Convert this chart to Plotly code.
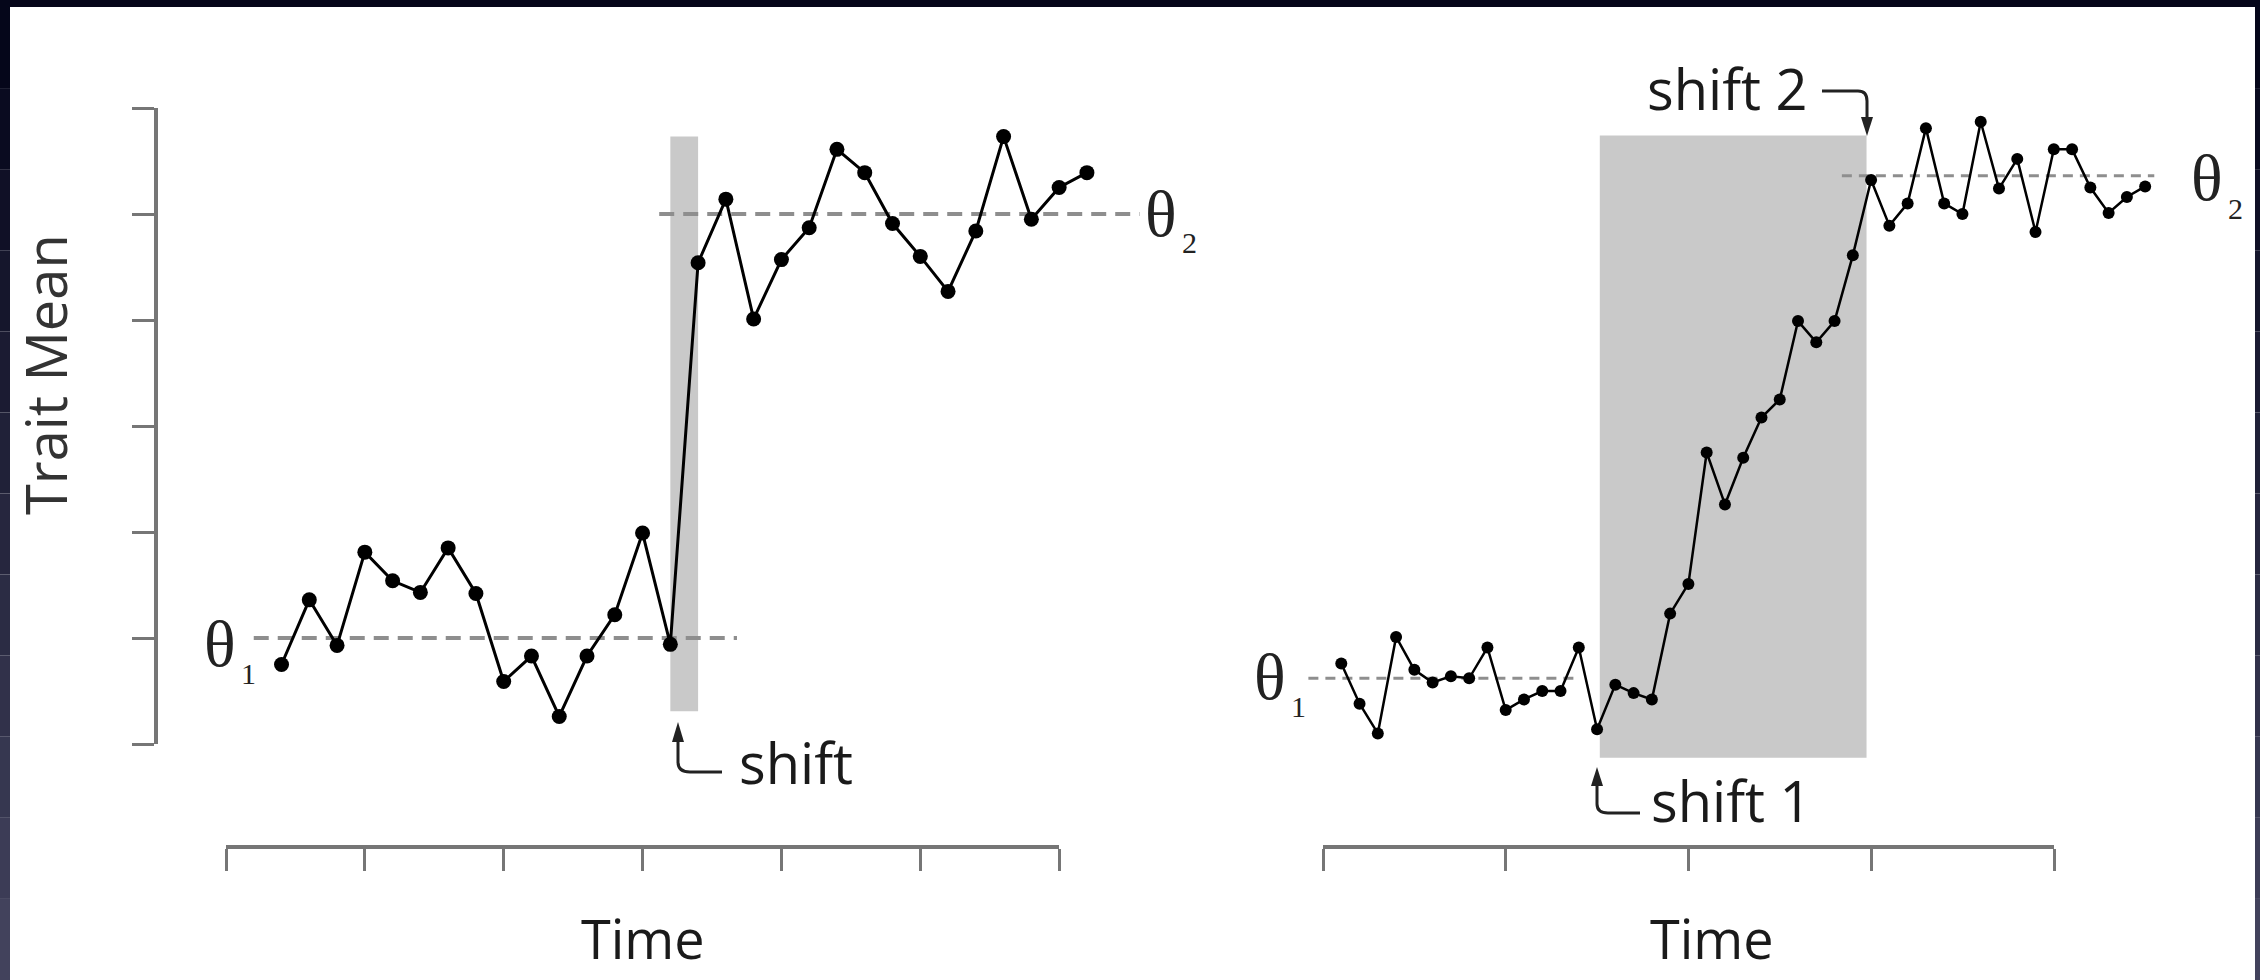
import plotly.graph_objects as go

W, H = 2260, 980

# ---------------- data ----------------
left_time = list(range(2, 32))
left_trait = [0.75, 1.36, 0.93, 1.81, 1.54, 1.43, 1.85, 1.42, 0.59, 0.83,
              0.26, 0.83, 1.22, 1.99, 0.94, 4.54, 5.14, 4.01, 4.57, 4.87,
              5.61, 5.39, 4.91, 4.60, 4.27, 4.84, 5.73, 4.95, 5.25, 5.39]

right_time = list(range(1, 46))
right_trait = [0.76, 0.38, 0.10, 1.01, 0.70, 0.58, 0.64, 0.62, 0.91, 0.32,
               0.42, 0.50, 0.50, 0.91, 0.14, 0.56, 0.48, 0.42, 1.23, 1.51,
               2.75, 2.26, 2.70, 3.08, 3.25, 3.99, 3.79, 3.99, 4.61, 5.32,
               4.89, 5.10, 5.81, 5.10, 5.00, 5.87, 5.24, 5.52, 4.83, 5.61,
               5.61, 5.25, 5.01, 5.16, 5.26]

left_theta = [1.0, 5.0]          # theta1, theta2
right_theta = [0.62, 5.36]
left_theta_span = [[1.0, 18.4], [15.6, 32.9]]
right_theta_span = [[-0.8, 14.0], [28.4, 45.5]]

left_shift = [16.0, 17.0]        # time span of shaded shift
left_shift_y = [0.31, 5.73]
right_shift = [15.15, 29.75]
right_shift_y = [-0.13, 5.74]

left_ticks = [0, 5, 10, 15, 20, 25, 30]
right_ticks = [0, 10, 20, 30, 40]
y_ticks = [0, 1, 2, 3, 4, 5, 6]

theta_labels = ["θ", "θ", "θ", "θ"]
theta_subs = ["1", "2", "1", "2"]


def fx(px):
    return px / W


def fy(py):
    return 1 - py / H


AX_COL = "#767676"
DASH_COL = "#8e8e8e"
SHADE = "#c9c9c9"
TXT_FONT = "Open Sans, Lato, sans-serif"
SERIF = "Liberation Serif, DejaVu Serif, serif"

fig = go.Figure()

fig.add_trace(go.Scatter(x=left_time, y=left_trait, mode="lines+markers",
                         line=dict(color="black", width=3),
                         marker=dict(color="black", size=15),
                         xaxis="x", yaxis="y", showlegend=False, hoverinfo="skip"))
fig.add_trace(go.Scatter(x=right_time, y=right_trait, mode="lines+markers",
                         line=dict(color="black", width=2.5),
                         marker=dict(color="black", size=12),
                         xaxis="x2", yaxis="y2", showlegend=False, hoverinfo="skip"))
# dummy traces so decorative axes are created
fig.add_trace(go.Scatter(x=[None], y=[None], xaxis="x3", yaxis="y3",
                         showlegend=False, hoverinfo="skip"))
fig.add_trace(go.Scatter(x=[None], y=[None], xaxis="x4", yaxis="y3",
                         showlegend=False, hoverinfo="skip"))

hidden = dict(visible=False, showgrid=False, zeroline=False)
deco = dict(showgrid=False, zeroline=False, showticklabels=False, ticks="outside",
            ticklen=22, tickwidth=3, tickcolor=AX_COL, showline=True,
            linewidth=4, linecolor=AX_COL, anchor="free")

ydom = [fy(850), fy(2)]
fig.update_layout(
    width=W, height=H,
    margin=dict(l=0, r=0, t=0, b=0),
    paper_bgcolor="white", plot_bgcolor="rgba(0,0,0,0)",
    xaxis=dict(domain=[fx(198.2), fx(1198.0)], range=[-1, 35], anchor="y", **hidden),
    yaxis=dict(domain=ydom, range=[-1, 7], anchor="x", **hidden),
    xaxis2=dict(domain=[fx(1268.2), fx(2236.5)], range=[-3, 50], anchor="y2", **hidden),
    yaxis2=dict(domain=ydom, range=[-1, 7], anchor="x2", **hidden),
    xaxis3=dict(domain=[fx(226), fx(1059)], range=[0, 30], tickvals=left_ticks,
                position=fy(847), side="bottom", **deco),
    yaxis3=dict(domain=[fy(744), fy(108)], range=[0, 6], tickvals=y_ticks,
                position=fx(156), side="left", **deco),
    xaxis4=dict(domain=[fx(1323), fx(2054)], range=[0, 40], tickvals=right_ticks,
                position=fy(847), side="bottom", **deco),
)

shapes = []
# shaded shift regions
shapes.append(dict(type="rect", xref="x", yref="y", x0=left_shift[0], x1=left_shift[1],
                   y0=left_shift_y[0], y1=left_shift_y[1], fillcolor=SHADE,
                   line=dict(width=0), layer="below"))
shapes.append(dict(type="rect", xref="x2", yref="y2", x0=right_shift[0], x1=right_shift[1],
                   y0=right_shift_y[0], y1=right_shift_y[1], fillcolor=SHADE,
                   line=dict(width=0), layer="below"))
# theta dashed lines
for th, sp in zip(left_theta, left_theta_span):
    shapes.append(dict(type="line", xref="x", yref="y", x0=sp[0], x1=sp[1], y0=th, y1=th,
                       line=dict(color=DASH_COL, width=4, dash="15px,9px"), layer="below"))
for th, sp in zip(right_theta, right_theta_span):
    shapes.append(dict(type="line", xref="x2", yref="y2", x0=sp[0], x1=sp[1], y0=th, y1=th,
                       line=dict(color=DASH_COL, width=3, dash="10px,7px"), layer="below"))


def P(x, y):
    return f"{fx(x):.5f},{fy(y):.5f}"


ARW = dict(color="#222222", width=3)
# left "shift" arrow
shapes.append(dict(type="path", xref="paper", yref="paper",
                   path=f"M {P(678,738)} L {P(678,762)} Q {P(678,772)} {P(690,772)} L {P(722,772)}",
                   line=ARW))
shapes.append(dict(type="path", xref="paper", yref="paper",
                   path=f"M {P(678,722)} L {P(672,742)} L {P(684,742)} Z",
                   line=dict(width=0), fillcolor="#222222"))
# right "shift 1" arrow
shapes.append(dict(type="path", xref="paper", yref="paper",
                   path=f"M {P(1597,782)} L {P(1597,804)} Q {P(1597,813)} {P(1608,813)} L {P(1640,813)}",
                   line=ARW))
shapes.append(dict(type="path", xref="paper", yref="paper",
                   path=f"M {P(1597,767)} L {P(1591,786)} L {P(1603,786)} Z",
                   line=dict(width=0), fillcolor="#222222"))
# right "shift 2" arrow
shapes.append(dict(type="path", xref="paper", yref="paper",
                   path=f"M {P(1822,91)} L {P(1858,91)} Q {P(1867,91)} {P(1867,101)} L {P(1867,120)}",
                   line=ARW))
shapes.append(dict(type="path", xref="paper", yref="paper",
                   path=f"M {P(1867,136)} L {P(1861,117)} L {P(1873,117)} Z",
                   line=dict(width=0), fillcolor="#222222"))

# dark frame around the picture
NAVY = "#05061a"
shapes.append(dict(type="rect", xref="paper", yref="paper", x0=0, x1=1, y0=fy(7), y1=1,
                   fillcolor=NAVY, line=dict(width=0), layer="above"))
steps = 12
for i in range(steps):
    t = i / (steps - 1)
    r = int(5 + t * (66 - 5)); g = int(6 + t * (66 - 6)); b = int(26 + t * (92 - 26))
    col = f"rgb({r},{g},{b})"
    y0 = 7 + (H - 7) * i / steps
    y1 = 7 + (H - 7) * (i + 1) / steps
    shapes.append(dict(type="rect", xref="paper", yref="paper", x0=0, x1=fx(10),
                       y0=fy(y1), y1=fy(y0), fillcolor=col, line=dict(width=0), layer="above"))
    shapes.append(dict(type="rect", xref="paper", yref="paper", x0=fx(2255), x1=1,
                       y0=fy(y1), y1=fy(y0), fillcolor=col, line=dict(width=0), layer="above"))

fig.update_layout(shapes=shapes)

ann = []


def text(x, y, s, size, xanchor="left", font=TXT_FONT, angle=0, yanchor="middle", color="#1a1a1a"):
    ann.append(dict(x=fx(x), y=fy(y), xref="paper", yref="paper", text=s, showarrow=False,
                    xanchor=xanchor, yanchor=yanchor, textangle=angle, borderpad=0,
                    font=dict(family=font, size=size, color=color)))


text(738, 762, "shift", 56)
text(1650, 800, "shift 1", 56)
text(1646, 88, "shift 2", 56)
text(643, 938, "Time", 54, xanchor="center")
text(1712, 938, "Time", 54, xanchor="center")
text(45, 375, "Trait Mean", 56, xanchor="center", angle=-90, color="#333333")
# theta labels: right edge of the theta glyph, subscript just right-below
theta_right = [(237, 643), (1178, 213), (1287, 676), (2224, 178)]
for lab, sub, (tx, ty) in zip(theta_labels, theta_subs, theta_right):
    text(tx, ty, lab, 66, xanchor="right", font=SERIF, color="#222222")
    text(tx + 3, ty + 30, sub, 30, xanchor="left", font=SERIF, color="#222222")

fig.update_layout(annotations=ann)

fig.write_html("out.html")
